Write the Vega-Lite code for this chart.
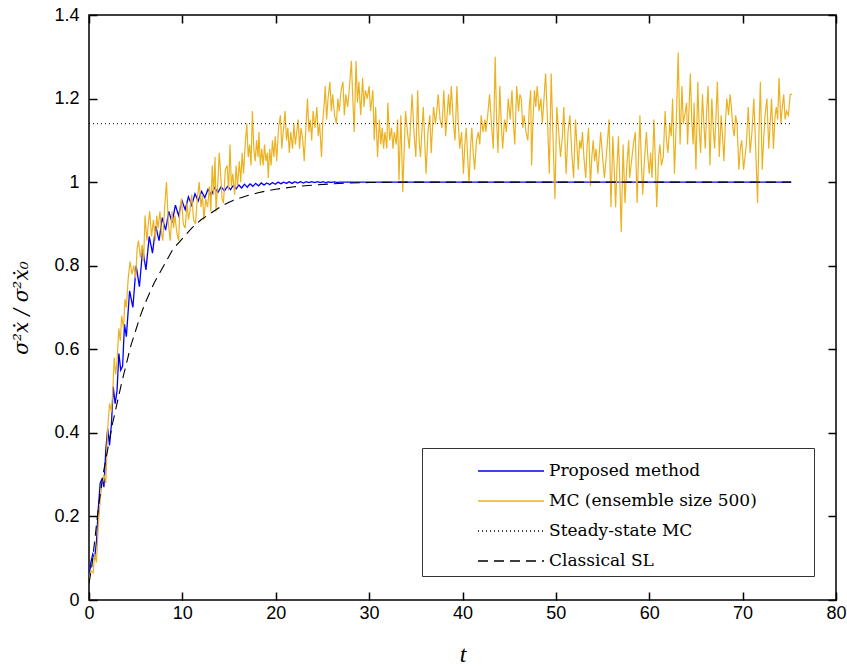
{
"$schema":"https://vega.github.io/schema/vega-lite/v6.json",
"width":747,"height":585,
"autosize":"none",
"padding":{"left":89,"top":15,"right":11,"bottom":70},
"background":"white",
"layer":[
{"data":{"values":[
{"s":"Proposed method","t":0,"v":0.05},{"s":"Proposed method","t":0.2,"v":0.09},{"s":"Proposed method","t":0.4,"v":0.11},{"s":"Proposed method","t":0.6,"v":0.10},{"s":"Proposed method","t":0.8,"v":0.14},{"s":"Proposed method","t":1.0,"v":0.22},{"s":"Proposed method","t":1.2,"v":0.28},{"s":"Proposed method","t":1.4,"v":0.29},{"s":"Proposed method","t":1.6,"v":0.27},{"s":"Proposed method","t":1.8,"v":0.36},{"s":"Proposed method","t":2.0,"v":0.41},{"s":"Proposed method","t":2.2,"v":0.37},{"s":"Proposed method","t":2.4,"v":0.42},{"s":"Proposed method","t":2.6,"v":0.51},{"s":"Proposed method","t":2.8,"v":0.47},{"s":"Proposed method","t":3.0,"v":0.50},{"s":"Proposed method","t":3.2,"v":0.59},{"s":"Proposed method","t":3.4,"v":0.55},{"s":"Proposed method","t":3.6,"v":0.56},{"s":"Proposed method","t":3.8,"v":0.66},{"s":"Proposed method","t":4.0,"v":0.63},{"s":"Proposed method","t":4.35,"v":0.74},{"s":"Proposed method","t":4.7,"v":0.70},{"s":"Proposed method","t":5.05,"v":0.80},{"s":"Proposed method","t":5.4,"v":0.75},{"s":"Proposed method","t":5.75,"v":0.84},{"s":"Proposed method","t":6.1,"v":0.79},{"s":"Proposed method","t":6.45,"v":0.87},{"s":"Proposed method","t":6.8,"v":0.83},{"s":"Proposed method","t":7.15,"v":0.895},{"s":"Proposed method","t":7.5,"v":0.86},{"s":"Proposed method","t":7.85,"v":0.915},{"s":"Proposed method","t":8.2,"v":0.885},{"s":"Proposed method","t":8.55,"v":0.93},{"s":"Proposed method","t":8.9,"v":0.903},{"s":"Proposed method","t":9.25,"v":0.945},{"s":"Proposed method","t":9.6,"v":0.92},{"s":"Proposed method","t":9.95,"v":0.956},{"s":"Proposed method","t":10.3,"v":0.934},{"s":"Proposed method","t":10.65,"v":0.965},{"s":"Proposed method","t":11.0,"v":0.945},{"s":"Proposed method","t":11.35,"v":0.972},{"s":"Proposed method","t":11.7,"v":0.955},{"s":"Proposed method","t":12.05,"v":0.978},{"s":"Proposed method","t":12.4,"v":0.963},{"s":"Proposed method","t":12.75,"v":0.983},{"s":"Proposed method","t":13.1,"v":0.969},{"s":"Proposed method","t":13.45,"v":0.987},{"s":"Proposed method","t":13.8,"v":0.975},{"s":"Proposed method","t":14.15,"v":0.989},{"s":"Proposed method","t":14.5,"v":0.979},{"s":"Proposed method","t":14.85,"v":0.990},{"s":"Proposed method","t":15.15,"v":0.982},{"s":"Proposed method","t":15.45,"v":0.992},{"s":"Proposed method","t":15.75,"v":0.984},{"s":"Proposed method","t":16.05,"v":0.993},{"s":"Proposed method","t":16.35,"v":0.986},{"s":"Proposed method","t":16.65,"v":0.995},{"s":"Proposed method","t":16.95,"v":0.988},{"s":"Proposed method","t":17.25,"v":0.996},{"s":"Proposed method","t":17.55,"v":0.990},{"s":"Proposed method","t":17.85,"v":0.997},{"s":"Proposed method","t":18.15,"v":0.991},{"s":"Proposed method","t":18.45,"v":0.998},{"s":"Proposed method","t":18.75,"v":0.993},{"s":"Proposed method","t":19.05,"v":0.998},{"s":"Proposed method","t":19.35,"v":0.994},{"s":"Proposed method","t":19.65,"v":0.999},{"s":"Proposed method","t":19.95,"v":0.995},{"s":"Proposed method","t":20.25,"v":1.0},{"s":"Proposed method","t":20.55,"v":0.996},{"s":"Proposed method","t":20.85,"v":1.0},{"s":"Proposed method","t":21.15,"v":0.997},{"s":"Proposed method","t":21.45,"v":1.001},{"s":"Proposed method","t":21.75,"v":0.997},{"s":"Proposed method","t":22.05,"v":1.001},{"s":"Proposed method","t":22.35,"v":0.998},{"s":"Proposed method","t":22.65,"v":1.001},{"s":"Proposed method","t":22.95,"v":0.998},{"s":"Proposed method","t":23.25,"v":1.001},{"s":"Proposed method","t":23.55,"v":0.999},{"s":"Proposed method","t":23.85,"v":1.001},{"s":"Proposed method","t":24.15,"v":0.999},{"s":"Proposed method","t":24.45,"v":1.001},{"s":"Proposed method","t":24.75,"v":0.999},{"s":"Proposed method","t":25.05,"v":1.001},{"s":"Proposed method","t":25.35,"v":0.999},{"s":"Proposed method","t":25.65,"v":1.0005},{"s":"Proposed method","t":25.95,"v":0.9995},{"s":"Proposed method","t":26.25,"v":1.0005},{"s":"Proposed method","t":26.55,"v":0.9995},{"s":"Proposed method","t":27,"v":1.0},{"s":"Proposed method","t":75.2,"v":1.0}
]},
"mark":{"type":"line","strokeWidth":1.3,"clip":true},
"encoding":{
"x":{"field":"t","type":"quantitative","scale":{"domain":[0,80],"nice":false,"zero":false},"axis":{"orient":"bottom","values":[0,10,20,30,40,50,60,70,80],"tickSize":-8,"labelPadding":12,"labelFlush":false,"domain":false,"grid":false,"title":"t","titleFont":"Liberation Serif","titleFontStyle":"italic","titleFontWeight":"normal","titleFontSize":24,"titlePadding":20}},
"y":{"field":"v","type":"quantitative","scale":{"domain":[0,1.4],"nice":false,"zero":false},"axis":{"orient":"left","values":[0,0.2,0.4,0.6,0.8,1,1.2,1.4],"format":"~g","tickSize":-8,"labelPadding":18,"labelFlush":false,"domain":false,"grid":false,"title":"σ²ẋ / σ²ẋ₀","titleFont":"DejaVu Serif","titleFontStyle":"italic","titleFontWeight":"normal","titleFontSize":20,"titlePadding":22}},
"color":{"field":"s","type":"nominal","scale":{"domain":["Proposed method","MC (ensemble size 500)","Steady-state MC","Classical SL"],"range":["#0000FF","#EDB120","#000000","#000000"]},"legend":{"orient":"none","legendX":333,"legendY":433,"title":null,"symbolType":"M-2.2,0H2.2","symbolSize":900,"symbolStrokeWidth":1.3,"labelFont":"DejaVu Serif","labelFontSize":17,"labelColor":"black","labelLimit":500,"padding":7,"rowPadding":6,"strokeColor":"#333333","fillColor":"white","symbolOffset":66,"labelOffset":22,"labelExpr":"datum.label + '\u2800\u2800\u2800\u2800'"}},
"strokeDash":{"field":"s","type":"nominal","scale":{"domain":["Proposed method","MC (ensemble size 500)","Steady-state MC","Classical SL"],"range":[[1,0],[1,0],[1,3],[10,6]]},"legend":{"orient":"none","legendX":333,"legendY":433,"title":null,"symbolType":"M-2.2,0H2.2","symbolSize":900,"symbolStrokeWidth":1.3,"labelFont":"DejaVu Serif","labelFontSize":17,"labelColor":"black","labelLimit":500,"padding":7,"rowPadding":6,"strokeColor":"#333333","fillColor":"white","symbolOffset":66,"labelOffset":22,"labelExpr":"datum.label + '\u2800\u2800\u2800\u2800'"}}
}},
{"data":{"values":[
{"s":"MC (ensemble size 500)","t":0,"v":0.05},{"s":"MC (ensemble size 500)","t":0.2,"v":0.07},{"s":"MC (ensemble size 500)","t":0.45,"v":0.065},{"s":"MC (ensemble size 500)","t":0.6,"v":0.11},{"s":"MC (ensemble size 500)","t":0.8,"v":0.09},{"s":"MC (ensemble size 500)","t":1.0,"v":0.18},{"s":"MC (ensemble size 500)","t":1.2,"v":0.24},{"s":"MC (ensemble size 500)","t":1.4,"v":0.28},{"s":"MC (ensemble size 500)","t":1.6,"v":0.30},{"s":"MC (ensemble size 500)","t":1.8,"v":0.28},{"s":"MC (ensemble size 500)","t":2.0,"v":0.41},{"s":"MC (ensemble size 500)","t":2.2,"v":0.47},{"s":"MC (ensemble size 500)","t":2.4,"v":0.45},{"s":"MC (ensemble size 500)","t":2.55,"v":0.50},{"s":"MC (ensemble size 500)","t":2.7,"v":0.58},{"s":"MC (ensemble size 500)","t":2.85,"v":0.54},{"s":"MC (ensemble size 500)","t":3.0,"v":0.57},{"s":"MC (ensemble size 500)","t":3.2,"v":0.65},{"s":"MC (ensemble size 500)","t":3.35,"v":0.62},{"s":"MC (ensemble size 500)","t":3.5,"v":0.68},{"s":"MC (ensemble size 500)","t":3.7,"v":0.65},{"s":"MC (ensemble size 500)","t":3.85,"v":0.72},{"s":"MC (ensemble size 500)","t":4.0,"v":0.70},{"s":"MC (ensemble size 500)","t":4.2,"v":0.77},{"s":"MC (ensemble size 500)","t":4.4,"v":0.81},{"s":"MC (ensemble size 500)","t":4.6,"v":0.78},{"s":"MC (ensemble size 500)","t":4.8,"v":0.80},{"s":"MC (ensemble size 500)","t":5.0,"v":0.77},{"s":"MC (ensemble size 500)","t":5.15,"v":0.84},{"s":"MC (ensemble size 500)","t":5.3,"v":0.86},{"s":"MC (ensemble size 500)","t":5.5,"v":0.82},{"s":"MC (ensemble size 500)","t":5.7,"v":0.85},{"s":"MC (ensemble size 500)","t":5.85,"v":0.81},{"s":"MC (ensemble size 500)","t":6.0,"v":0.92},{"s":"MC (ensemble size 500)","t":6.2,"v":0.86},{"s":"MC (ensemble size 500)","t":6.35,"v":0.90},{"s":"MC (ensemble size 500)","t":6.5,"v":0.93},{"s":"MC (ensemble size 500)","t":6.7,"v":0.87},{"s":"MC (ensemble size 500)","t":6.9,"v":0.91},{"s":"MC (ensemble size 500)","t":7.1,"v":0.86},{"s":"MC (ensemble size 500)","t":7.25,"v":0.92},{"s":"MC (ensemble size 500)","t":7.4,"v":0.89},{"s":"MC (ensemble size 500)","t":7.6,"v":0.93},{"s":"MC (ensemble size 500)","t":7.75,"v":0.88},{"s":"MC (ensemble size 500)","t":7.9,"v":0.86},{"s":"MC (ensemble size 500)","t":8.1,"v":0.94},{"s":"MC (ensemble size 500)","t":8.3,"v":1.00},{"s":"MC (ensemble size 500)","t":8.5,"v":0.90},{"s":"MC (ensemble size 500)","t":8.7,"v":0.86},{"s":"MC (ensemble size 500)","t":8.9,"v":0.93},{"s":"MC (ensemble size 500)","t":9.05,"v":0.89},{"s":"MC (ensemble size 500)","t":9.2,"v":0.92},{"s":"MC (ensemble size 500)","t":9.4,"v":0.88},{"s":"MC (ensemble size 500)","t":9.6,"v":0.86},{"s":"MC (ensemble size 500)","t":9.75,"v":0.94},{"s":"MC (ensemble size 500)","t":9.9,"v":0.96},{"s":"MC (ensemble size 500)","t":10.1,"v":0.90},{"s":"MC (ensemble size 500)","t":10.3,"v":0.89},{"s":"MC (ensemble size 500)","t":10.5,"v":0.95},{"s":"MC (ensemble size 500)","t":10.65,"v":0.91},{"s":"MC (ensemble size 500)","t":10.8,"v":0.93},{"s":"MC (ensemble size 500)","t":11.0,"v":0.97},{"s":"MC (ensemble size 500)","t":11.2,"v":0.91},{"s":"MC (ensemble size 500)","t":11.4,"v":0.90},{"s":"MC (ensemble size 500)","t":11.6,"v":0.96},{"s":"MC (ensemble size 500)","t":11.8,"v":1.00},{"s":"MC (ensemble size 500)","t":12.0,"v":0.94},{"s":"MC (ensemble size 500)","t":12.15,"v":0.97},{"s":"MC (ensemble size 500)","t":12.3,"v":0.91},{"s":"MC (ensemble size 500)","t":12.5,"v":0.96},{"s":"MC (ensemble size 500)","t":12.7,"v":0.94},{"s":"MC (ensemble size 500)","t":12.9,"v":0.99},{"s":"MC (ensemble size 500)","t":13.05,"v":0.93},{"s":"MC (ensemble size 500)","t":13.2,"v":1.04},{"s":"MC (ensemble size 500)","t":13.35,"v":0.97},{"s":"MC (ensemble size 500)","t":13.5,"v":1.06},{"s":"MC (ensemble size 500)","t":13.6,"v":0.93},{"s":"MC (ensemble size 500)","t":13.8,"v":1.00},{"s":"MC (ensemble size 500)","t":13.95,"v":1.07},{"s":"MC (ensemble size 500)","t":14.1,"v":1.02},{"s":"MC (ensemble size 500)","t":14.25,"v":0.96},{"s":"MC (ensemble size 500)","t":14.4,"v":0.95},{"s":"MC (ensemble size 500)","t":14.6,"v":1.03},{"s":"MC (ensemble size 500)","t":14.8,"v":1.04},{"s":"MC (ensemble size 500)","t":14.95,"v":0.98},{"s":"MC (ensemble size 500)","t":15.1,"v":1.09},{"s":"MC (ensemble size 500)","t":15.25,"v":0.99},{"s":"MC (ensemble size 500)","t":15.4,"v":1.02},{"s":"MC (ensemble size 500)","t":15.6,"v":0.97},{"s":"MC (ensemble size 500)","t":15.75,"v":1.04},{"s":"MC (ensemble size 500)","t":15.9,"v":0.99},{"s":"MC (ensemble size 500)","t":16.1,"v":1.05},{"s":"MC (ensemble size 500)","t":16.25,"v":1.00},{"s":"MC (ensemble size 500)","t":16.4,"v":1.07},{"s":"MC (ensemble size 500)","t":16.55,"v":1.02},{"s":"MC (ensemble size 500)","t":16.7,"v":1.08},{"s":"MC (ensemble size 500)","t":16.9,"v":1.14},{"s":"MC (ensemble size 500)","t":17.05,"v":1.06},{"s":"MC (ensemble size 500)","t":17.2,"v":1.09},{"s":"MC (ensemble size 500)","t":17.35,"v":1.04},{"s":"MC (ensemble size 500)","t":17.5,"v":1.17},{"s":"MC (ensemble size 500)","t":17.65,"v":1.08},{"s":"MC (ensemble size 500)","t":17.8,"v":1.05},{"s":"MC (ensemble size 500)","t":17.95,"v":1.10},{"s":"MC (ensemble size 500)","t":18.1,"v":1.06},{"s":"MC (ensemble size 500)","t":18.2,"v":1.12},{"s":"MC (ensemble size 500)","t":18.35,"v":1.04},{"s":"MC (ensemble size 500)","t":18.5,"v":1.08},{"s":"MC (ensemble size 500)","t":18.65,"v":1.04},{"s":"MC (ensemble size 500)","t":18.8,"v":1.09},{"s":"MC (ensemble size 500)","t":18.95,"v":1.05},{"s":"MC (ensemble size 500)","t":19.1,"v":1.07},{"s":"MC (ensemble size 500)","t":19.2,"v":1.01},{"s":"MC (ensemble size 500)","t":19.35,"v":1.08},{"s":"MC (ensemble size 500)","t":19.5,"v":1.04},{"s":"MC (ensemble size 500)","t":19.65,"v":1.10},{"s":"MC (ensemble size 500)","t":19.8,"v":1.06},{"s":"MC (ensemble size 500)","t":19.95,"v":1.11},{"s":"MC (ensemble size 500)","t":20.1,"v":1.05},{"s":"MC (ensemble size 500)","t":20.3,"v":1.13},{"s":"MC (ensemble size 500)","t":20.5,"v":1.16},{"s":"MC (ensemble size 500)","t":20.65,"v":1.08},{"s":"MC (ensemble size 500)","t":20.8,"v":1.12},{"s":"MC (ensemble size 500)","t":21.0,"v":1.17},{"s":"MC (ensemble size 500)","t":21.15,"v":1.10},{"s":"MC (ensemble size 500)","t":21.3,"v":1.13},{"s":"MC (ensemble size 500)","t":21.45,"v":1.07},{"s":"MC (ensemble size 500)","t":21.6,"v":1.12},{"s":"MC (ensemble size 500)","t":21.8,"v":1.08},{"s":"MC (ensemble size 500)","t":21.95,"v":1.14},{"s":"MC (ensemble size 500)","t":22.1,"v":1.09},{"s":"MC (ensemble size 500)","t":22.25,"v":1.12},{"s":"MC (ensemble size 500)","t":22.4,"v":1.15},{"s":"MC (ensemble size 500)","t":22.55,"v":1.08},{"s":"MC (ensemble size 500)","t":22.7,"v":1.13},{"s":"MC (ensemble size 500)","t":22.9,"v":1.10},{"s":"MC (ensemble size 500)","t":23.05,"v":1.05},{"s":"MC (ensemble size 500)","t":23.25,"v":1.14},{"s":"MC (ensemble size 500)","t":23.4,"v":1.20},{"s":"MC (ensemble size 500)","t":23.55,"v":1.12},{"s":"MC (ensemble size 500)","t":23.7,"v":1.15},{"s":"MC (ensemble size 500)","t":23.85,"v":1.10},{"s":"MC (ensemble size 500)","t":24.0,"v":1.17},{"s":"MC (ensemble size 500)","t":24.2,"v":1.13},{"s":"MC (ensemble size 500)","t":24.4,"v":1.18},{"s":"MC (ensemble size 500)","t":24.55,"v":1.11},{"s":"MC (ensemble size 500)","t":24.7,"v":1.14},{"s":"MC (ensemble size 500)","t":24.9,"v":1.06},{"s":"MC (ensemble size 500)","t":25.05,"v":1.15},{"s":"MC (ensemble size 500)","t":25.2,"v":1.19},{"s":"MC (ensemble size 500)","t":25.3,"v":1.23},{"s":"MC (ensemble size 500)","t":25.45,"v":1.15},{"s":"MC (ensemble size 500)","t":25.6,"v":1.20},{"s":"MC (ensemble size 500)","t":25.8,"v":1.24},{"s":"MC (ensemble size 500)","t":25.95,"v":1.17},{"s":"MC (ensemble size 500)","t":26.1,"v":1.21},{"s":"MC (ensemble size 500)","t":26.3,"v":1.16},{"s":"MC (ensemble size 500)","t":26.5,"v":1.14},{"s":"MC (ensemble size 500)","t":26.65,"v":1.20},{"s":"MC (ensemble size 500)","t":26.8,"v":1.17},{"s":"MC (ensemble size 500)","t":27.0,"v":1.22},{"s":"MC (ensemble size 500)","t":27.2,"v":1.24},{"s":"MC (ensemble size 500)","t":27.35,"v":1.16},{"s":"MC (ensemble size 500)","t":27.5,"v":1.21},{"s":"MC (ensemble size 500)","t":27.7,"v":1.18},{"s":"MC (ensemble size 500)","t":27.9,"v":1.23},{"s":"MC (ensemble size 500)","t":28.1,"v":1.29},{"s":"MC (ensemble size 500)","t":28.25,"v":1.20},{"s":"MC (ensemble size 500)","t":28.4,"v":1.12},{"s":"MC (ensemble size 500)","t":28.6,"v":1.29},{"s":"MC (ensemble size 500)","t":28.75,"v":1.19},{"s":"MC (ensemble size 500)","t":28.9,"v":1.24},{"s":"MC (ensemble size 500)","t":29.1,"v":1.16},{"s":"MC (ensemble size 500)","t":29.3,"v":1.25},{"s":"MC (ensemble size 500)","t":29.45,"v":1.18},{"s":"MC (ensemble size 500)","t":29.6,"v":1.22},{"s":"MC (ensemble size 500)","t":29.8,"v":1.20},{"s":"MC (ensemble size 500)","t":30.0,"v":1.23},{"s":"MC (ensemble size 500)","t":30.15,"v":1.17},{"s":"MC (ensemble size 500)","t":30.4,"v":1.22},{"s":"MC (ensemble size 500)","t":30.55,"v":1.10},{"s":"MC (ensemble size 500)","t":30.7,"v":1.18},{"s":"MC (ensemble size 500)","t":30.9,"v":1.06},{"s":"MC (ensemble size 500)","t":31.1,"v":1.15},{"s":"MC (ensemble size 500)","t":31.25,"v":1.09},{"s":"MC (ensemble size 500)","t":31.4,"v":1.13},{"s":"MC (ensemble size 500)","t":31.55,"v":1.08},{"s":"MC (ensemble size 500)","t":31.7,"v":1.12},{"s":"MC (ensemble size 500)","t":31.9,"v":1.08},{"s":"MC (ensemble size 500)","t":32.0,"v":1.19},{"s":"MC (ensemble size 500)","t":32.2,"v":1.10},{"s":"MC (ensemble size 500)","t":32.4,"v":1.13},{"s":"MC (ensemble size 500)","t":32.55,"v":1.08},{"s":"MC (ensemble size 500)","t":32.7,"v":1.12},{"s":"MC (ensemble size 500)","t":32.9,"v":1.09},{"s":"MC (ensemble size 500)","t":33.05,"v":1.15},{"s":"MC (ensemble size 500)","t":33.2,"v":1.005},{"s":"MC (ensemble size 500)","t":33.4,"v":1.16},{"s":"MC (ensemble size 500)","t":33.6,"v":0.976},{"s":"MC (ensemble size 500)","t":33.9,"v":1.17},{"s":"MC (ensemble size 500)","t":34.1,"v":1.12},{"s":"MC (ensemble size 500)","t":34.3,"v":1.08},{"s":"MC (ensemble size 500)","t":34.6,"v":1.21},{"s":"MC (ensemble size 500)","t":34.8,"v":1.12},{"s":"MC (ensemble size 500)","t":35.0,"v":1.06},{"s":"MC (ensemble size 500)","t":35.2,"v":1.22},{"s":"MC (ensemble size 500)","t":35.35,"v":1.10},{"s":"MC (ensemble size 500)","t":35.5,"v":1.06},{"s":"MC (ensemble size 500)","t":35.8,"v":1.18},{"s":"MC (ensemble size 500)","t":35.95,"v":1.10},{"s":"MC (ensemble size 500)","t":36.1,"v":1.02},{"s":"MC (ensemble size 500)","t":36.3,"v":1.12},{"s":"MC (ensemble size 500)","t":36.5,"v":1.16},{"s":"MC (ensemble size 500)","t":36.65,"v":1.07},{"s":"MC (ensemble size 500)","t":36.9,"v":1.18},{"s":"MC (ensemble size 500)","t":37.1,"v":1.14},{"s":"MC (ensemble size 500)","t":37.25,"v":1.17},{"s":"MC (ensemble size 500)","t":37.4,"v":1.21},{"s":"MC (ensemble size 500)","t":37.6,"v":1.15},{"s":"MC (ensemble size 500)","t":37.8,"v":1.13},{"s":"MC (ensemble size 500)","t":38.0,"v":1.22},{"s":"MC (ensemble size 500)","t":38.2,"v":1.11},{"s":"MC (ensemble size 500)","t":38.35,"v":1.16},{"s":"MC (ensemble size 500)","t":38.5,"v":1.21},{"s":"MC (ensemble size 500)","t":38.65,"v":1.16},{"s":"MC (ensemble size 500)","t":38.8,"v":1.23},{"s":"MC (ensemble size 500)","t":39.0,"v":1.15},{"s":"MC (ensemble size 500)","t":39.2,"v":1.10},{"s":"MC (ensemble size 500)","t":39.4,"v":1.23},{"s":"MC (ensemble size 500)","t":39.55,"v":1.14},{"s":"MC (ensemble size 500)","t":39.7,"v":1.08},{"s":"MC (ensemble size 500)","t":39.9,"v":1.12},{"s":"MC (ensemble size 500)","t":40.1,"v":1.02},{"s":"MC (ensemble size 500)","t":40.25,"v":1.09},{"s":"MC (ensemble size 500)","t":40.4,"v":1.13},{"s":"MC (ensemble size 500)","t":40.55,"v":1.06},{"s":"MC (ensemble size 500)","t":40.7,"v":0.997},{"s":"MC (ensemble size 500)","t":40.85,"v":1.08},{"s":"MC (ensemble size 500)","t":41.0,"v":1.13},{"s":"MC (ensemble size 500)","t":41.15,"v":1.07},{"s":"MC (ensemble size 500)","t":41.3,"v":1.03},{"s":"MC (ensemble size 500)","t":41.5,"v":1.10},{"s":"MC (ensemble size 500)","t":41.7,"v":1.12},{"s":"MC (ensemble size 500)","t":41.85,"v":1.09},{"s":"MC (ensemble size 500)","t":42.0,"v":1.16},{"s":"MC (ensemble size 500)","t":42.2,"v":1.12},{"s":"MC (ensemble size 500)","t":42.4,"v":1.15},{"s":"MC (ensemble size 500)","t":42.5,"v":1.12},{"s":"MC (ensemble size 500)","t":42.7,"v":1.16},{"s":"MC (ensemble size 500)","t":42.9,"v":1.21},{"s":"MC (ensemble size 500)","t":43.1,"v":1.14},{"s":"MC (ensemble size 500)","t":43.3,"v":1.08},{"s":"MC (ensemble size 500)","t":43.5,"v":1.30},{"s":"MC (ensemble size 500)","t":43.65,"v":1.15},{"s":"MC (ensemble size 500)","t":43.8,"v":1.07},{"s":"MC (ensemble size 500)","t":44.0,"v":1.23},{"s":"MC (ensemble size 500)","t":44.15,"v":1.14},{"s":"MC (ensemble size 500)","t":44.3,"v":1.08},{"s":"MC (ensemble size 500)","t":44.5,"v":1.15},{"s":"MC (ensemble size 500)","t":44.7,"v":1.12},{"s":"MC (ensemble size 500)","t":44.9,"v":1.20},{"s":"MC (ensemble size 500)","t":45.1,"v":1.15},{"s":"MC (ensemble size 500)","t":45.3,"v":1.22},{"s":"MC (ensemble size 500)","t":45.45,"v":1.14},{"s":"MC (ensemble size 500)","t":45.6,"v":1.09},{"s":"MC (ensemble size 500)","t":45.8,"v":1.23},{"s":"MC (ensemble size 500)","t":46.0,"v":1.17},{"s":"MC (ensemble size 500)","t":46.15,"v":1.21},{"s":"MC (ensemble size 500)","t":46.3,"v":1.20},{"s":"MC (ensemble size 500)","t":46.45,"v":1.13},{"s":"MC (ensemble size 500)","t":46.6,"v":1.16},{"s":"MC (ensemble size 500)","t":46.8,"v":1.12},{"s":"MC (ensemble size 500)","t":47.0,"v":1.10},{"s":"MC (ensemble size 500)","t":47.15,"v":1.18},{"s":"MC (ensemble size 500)","t":47.3,"v":1.22},{"s":"MC (ensemble size 500)","t":47.4,"v":1.04},{"s":"MC (ensemble size 500)","t":47.55,"v":1.15},{"s":"MC (ensemble size 500)","t":47.7,"v":1.22},{"s":"MC (ensemble size 500)","t":47.85,"v":1.18},{"s":"MC (ensemble size 500)","t":48.0,"v":1.23},{"s":"MC (ensemble size 500)","t":48.2,"v":1.17},{"s":"MC (ensemble size 500)","t":48.4,"v":1.20},{"s":"MC (ensemble size 500)","t":48.55,"v":1.14},{"s":"MC (ensemble size 500)","t":48.7,"v":1.19},{"s":"MC (ensemble size 500)","t":48.9,"v":1.26},{"s":"MC (ensemble size 500)","t":49.1,"v":1.15},{"s":"MC (ensemble size 500)","t":49.3,"v":1.02},{"s":"MC (ensemble size 500)","t":49.5,"v":1.26},{"s":"MC (ensemble size 500)","t":49.7,"v":1.10},{"s":"MC (ensemble size 500)","t":49.9,"v":0.96},{"s":"MC (ensemble size 500)","t":50.1,"v":1.18},{"s":"MC (ensemble size 500)","t":50.3,"v":1.12},{"s":"MC (ensemble size 500)","t":50.5,"v":1.06},{"s":"MC (ensemble size 500)","t":50.7,"v":1.11},{"s":"MC (ensemble size 500)","t":50.85,"v":1.18},{"s":"MC (ensemble size 500)","t":51.0,"v":1.08},{"s":"MC (ensemble size 500)","t":51.1,"v":1.02},{"s":"MC (ensemble size 500)","t":51.3,"v":1.12},{"s":"MC (ensemble size 500)","t":51.5,"v":1.16},{"s":"MC (ensemble size 500)","t":51.7,"v":1.07},{"s":"MC (ensemble size 500)","t":51.9,"v":1.01},{"s":"MC (ensemble size 500)","t":52.1,"v":1.15},{"s":"MC (ensemble size 500)","t":52.25,"v":1.09},{"s":"MC (ensemble size 500)","t":52.4,"v":1.03},{"s":"MC (ensemble size 500)","t":52.55,"v":1.10},{"s":"MC (ensemble size 500)","t":52.7,"v":1.08},{"s":"MC (ensemble size 500)","t":52.85,"v":1.12},{"s":"MC (ensemble size 500)","t":53.0,"v":1.06},{"s":"MC (ensemble size 500)","t":53.2,"v":1.01},{"s":"MC (ensemble size 500)","t":53.35,"v":1.09},{"s":"MC (ensemble size 500)","t":53.5,"v":1.13},{"s":"MC (ensemble size 500)","t":53.7,"v":0.99},{"s":"MC (ensemble size 500)","t":53.85,"v":1.06},{"s":"MC (ensemble size 500)","t":54.0,"v":1.10},{"s":"MC (ensemble size 500)","t":54.15,"v":1.05},{"s":"MC (ensemble size 500)","t":54.3,"v":1.08},{"s":"MC (ensemble size 500)","t":54.5,"v":1.02},{"s":"MC (ensemble size 500)","t":54.65,"v":1.07},{"s":"MC (ensemble size 500)","t":54.8,"v":1.12},{"s":"MC (ensemble size 500)","t":55.0,"v":1.06},{"s":"MC (ensemble size 500)","t":55.2,"v":1.01},{"s":"MC (ensemble size 500)","t":55.35,"v":1.05},{"s":"MC (ensemble size 500)","t":55.5,"v":1.09},{"s":"MC (ensemble size 500)","t":55.7,"v":1.15},{"s":"MC (ensemble size 500)","t":55.9,"v":0.94},{"s":"MC (ensemble size 500)","t":56.1,"v":1.11},{"s":"MC (ensemble size 500)","t":56.25,"v":1.03},{"s":"MC (ensemble size 500)","t":56.4,"v":0.94},{"s":"MC (ensemble size 500)","t":56.55,"v":1.04},{"s":"MC (ensemble size 500)","t":56.7,"v":1.11},{"s":"MC (ensemble size 500)","t":56.85,"v":1.00},{"s":"MC (ensemble size 500)","t":57.0,"v":0.88},{"s":"MC (ensemble size 500)","t":57.2,"v":1.09},{"s":"MC (ensemble size 500)","t":57.4,"v":0.95},{"s":"MC (ensemble size 500)","t":57.6,"v":1.04},{"s":"MC (ensemble size 500)","t":57.8,"v":1.10},{"s":"MC (ensemble size 500)","t":57.9,"v":1.01},{"s":"MC (ensemble size 500)","t":58.1,"v":1.05},{"s":"MC (ensemble size 500)","t":58.3,"v":1.09},{"s":"MC (ensemble size 500)","t":58.5,"v":1.12},{"s":"MC (ensemble size 500)","t":58.7,"v":0.95},{"s":"MC (ensemble size 500)","t":58.85,"v":1.06},{"s":"MC (ensemble size 500)","t":59.0,"v":1.16},{"s":"MC (ensemble size 500)","t":59.15,"v":1.05},{"s":"MC (ensemble size 500)","t":59.3,"v":0.97},{"s":"MC (ensemble size 500)","t":59.5,"v":1.06},{"s":"MC (ensemble size 500)","t":59.7,"v":1.12},{"s":"MC (ensemble size 500)","t":59.85,"v":1.06},{"s":"MC (ensemble size 500)","t":60.0,"v":1.02},{"s":"MC (ensemble size 500)","t":60.15,"v":1.07},{"s":"MC (ensemble size 500)","t":60.3,"v":1.01},{"s":"MC (ensemble size 500)","t":60.5,"v":1.15},{"s":"MC (ensemble size 500)","t":60.65,"v":1.05},{"s":"MC (ensemble size 500)","t":60.8,"v":0.94},{"s":"MC (ensemble size 500)","t":61.0,"v":1.06},{"s":"MC (ensemble size 500)","t":61.15,"v":1.09},{"s":"MC (ensemble size 500)","t":61.3,"v":1.04},{"s":"MC (ensemble size 500)","t":61.5,"v":1.06},{"s":"MC (ensemble size 500)","t":61.7,"v":1.17},{"s":"MC (ensemble size 500)","t":61.85,"v":1.10},{"s":"MC (ensemble size 500)","t":62.0,"v":1.07},{"s":"MC (ensemble size 500)","t":62.2,"v":1.14},{"s":"MC (ensemble size 500)","t":62.35,"v":1.11},{"s":"MC (ensemble size 500)","t":62.5,"v":1.20},{"s":"MC (ensemble size 500)","t":62.7,"v":1.02},{"s":"MC (ensemble size 500)","t":62.9,"v":1.15},{"s":"MC (ensemble size 500)","t":63.1,"v":1.31},{"s":"MC (ensemble size 500)","t":63.3,"v":1.09},{"s":"MC (ensemble size 500)","t":63.5,"v":1.23},{"s":"MC (ensemble size 500)","t":63.65,"v":1.14},{"s":"MC (ensemble size 500)","t":63.8,"v":1.16},{"s":"MC (ensemble size 500)","t":64.0,"v":1.19},{"s":"MC (ensemble size 500)","t":64.1,"v":1.09},{"s":"MC (ensemble size 500)","t":64.25,"v":1.17},{"s":"MC (ensemble size 500)","t":64.4,"v":1.26},{"s":"MC (ensemble size 500)","t":64.55,"v":1.15},{"s":"MC (ensemble size 500)","t":64.7,"v":1.09},{"s":"MC (ensemble size 500)","t":64.8,"v":1.19},{"s":"MC (ensemble size 500)","t":65.0,"v":1.03},{"s":"MC (ensemble size 500)","t":65.2,"v":1.24},{"s":"MC (ensemble size 500)","t":65.35,"v":1.13},{"s":"MC (ensemble size 500)","t":65.5,"v":1.07},{"s":"MC (ensemble size 500)","t":65.7,"v":1.21},{"s":"MC (ensemble size 500)","t":65.85,"v":1.14},{"s":"MC (ensemble size 500)","t":66.0,"v":1.08},{"s":"MC (ensemble size 500)","t":66.15,"v":1.17},{"s":"MC (ensemble size 500)","t":66.3,"v":1.23},{"s":"MC (ensemble size 500)","t":66.5,"v":1.04},{"s":"MC (ensemble size 500)","t":66.7,"v":1.20},{"s":"MC (ensemble size 500)","t":66.85,"v":1.13},{"s":"MC (ensemble size 500)","t":67.0,"v":1.08},{"s":"MC (ensemble size 500)","t":67.15,"v":1.16},{"s":"MC (ensemble size 500)","t":67.3,"v":1.24},{"s":"MC (ensemble size 500)","t":67.5,"v":1.06},{"s":"MC (ensemble size 500)","t":67.7,"v":1.16},{"s":"MC (ensemble size 500)","t":67.85,"v":1.11},{"s":"MC (ensemble size 500)","t":68.0,"v":1.05},{"s":"MC (ensemble size 500)","t":68.15,"v":1.14},{"s":"MC (ensemble size 500)","t":68.3,"v":1.20},{"s":"MC (ensemble size 500)","t":68.5,"v":1.16},{"s":"MC (ensemble size 500)","t":68.65,"v":1.21},{"s":"MC (ensemble size 500)","t":68.8,"v":1.18},{"s":"MC (ensemble size 500)","t":68.95,"v":1.13},{"s":"MC (ensemble size 500)","t":69.1,"v":1.11},{"s":"MC (ensemble size 500)","t":69.25,"v":1.16},{"s":"MC (ensemble size 500)","t":69.4,"v":1.14},{"s":"MC (ensemble size 500)","t":69.6,"v":1.03},{"s":"MC (ensemble size 500)","t":69.75,"v":1.08},{"s":"MC (ensemble size 500)","t":69.9,"v":1.10},{"s":"MC (ensemble size 500)","t":70.1,"v":1.03},{"s":"MC (ensemble size 500)","t":70.25,"v":1.06},{"s":"MC (ensemble size 500)","t":70.4,"v":1.09},{"s":"MC (ensemble size 500)","t":70.6,"v":1.18},{"s":"MC (ensemble size 500)","t":70.8,"v":1.07},{"s":"MC (ensemble size 500)","t":71.0,"v":1.12},{"s":"MC (ensemble size 500)","t":71.2,"v":1.20},{"s":"MC (ensemble size 500)","t":71.4,"v":1.08},{"s":"MC (ensemble size 500)","t":71.6,"v":0.95},{"s":"MC (ensemble size 500)","t":71.75,"v":1.12},{"s":"MC (ensemble size 500)","t":71.9,"v":1.24},{"s":"MC (ensemble size 500)","t":72.1,"v":1.03},{"s":"MC (ensemble size 500)","t":72.25,"v":1.10},{"s":"MC (ensemble size 500)","t":72.4,"v":1.16},{"s":"MC (ensemble size 500)","t":72.6,"v":1.20},{"s":"MC (ensemble size 500)","t":72.8,"v":1.08},{"s":"MC (ensemble size 500)","t":72.95,"v":1.14},{"s":"MC (ensemble size 500)","t":73.1,"v":1.20},{"s":"MC (ensemble size 500)","t":73.3,"v":1.08},{"s":"MC (ensemble size 500)","t":73.45,"v":1.15},{"s":"MC (ensemble size 500)","t":73.6,"v":1.18},{"s":"MC (ensemble size 500)","t":73.75,"v":1.15},{"s":"MC (ensemble size 500)","t":73.9,"v":1.25},{"s":"MC (ensemble size 500)","t":74.1,"v":1.14},{"s":"MC (ensemble size 500)","t":74.25,"v":1.18},{"s":"MC (ensemble size 500)","t":74.4,"v":1.21},{"s":"MC (ensemble size 500)","t":74.55,"v":1.15},{"s":"MC (ensemble size 500)","t":74.7,"v":1.17},{"s":"MC (ensemble size 500)","t":74.9,"v":1.16},{"s":"MC (ensemble size 500)","t":75.1,"v":1.21},{"s":"MC (ensemble size 500)","t":75.3,"v":1.21}
]},
"mark":{"type":"line","strokeWidth":1.2,"clip":true},
"encoding":{
"x":{"field":"t","type":"quantitative","scale":{"domain":[0,80],"nice":false,"zero":false},"axis":null},
"y":{"field":"v","type":"quantitative","scale":{"domain":[0,1.4],"nice":false,"zero":false},"axis":null},
"color":{"field":"s","type":"nominal"},
"strokeDash":{"field":"s","type":"nominal"}
}},
{"data":{"values":[
{"s":"Classical SL","t":0,"v":0.04},{"s":"Classical SL","t":0.3,"v":0.08},{"s":"Classical SL","t":0.6,"v":0.14},{"s":"Classical SL","t":1,"v":0.22},{"s":"Classical SL","t":1.5,"v":0.30},{"s":"Classical SL","t":2,"v":0.36},{"s":"Classical SL","t":2.5,"v":0.42},{"s":"Classical SL","t":3,"v":0.47},{"s":"Classical SL","t":3.5,"v":0.52},{"s":"Classical SL","t":4,"v":0.565},{"s":"Classical SL","t":4.5,"v":0.61},{"s":"Classical SL","t":5,"v":0.645},{"s":"Classical SL","t":5.5,"v":0.68},{"s":"Classical SL","t":6,"v":0.71},{"s":"Classical SL","t":7,"v":0.76},{"s":"Classical SL","t":8,"v":0.80},{"s":"Classical SL","t":9,"v":0.84},{"s":"Classical SL","t":10,"v":0.865},{"s":"Classical SL","t":11,"v":0.89},{"s":"Classical SL","t":12,"v":0.91},{"s":"Classical SL","t":13,"v":0.925},{"s":"Classical SL","t":14,"v":0.94},{"s":"Classical SL","t":15,"v":0.952},{"s":"Classical SL","t":16,"v":0.961},{"s":"Classical SL","t":17,"v":0.968},{"s":"Classical SL","t":18,"v":0.974},{"s":"Classical SL","t":19,"v":0.979},{"s":"Classical SL","t":20,"v":0.983},{"s":"Classical SL","t":22,"v":0.989},{"s":"Classical SL","t":24,"v":0.993},{"s":"Classical SL","t":26,"v":0.996},{"s":"Classical SL","t":28,"v":0.998},{"s":"Classical SL","t":30,"v":0.999},{"s":"Classical SL","t":33,"v":1.0},{"s":"Classical SL","t":75.2,"v":1.0}
]},
"mark":{"type":"line","strokeWidth":1.1,"clip":true},
"encoding":{
"x":{"field":"t","type":"quantitative","scale":{"domain":[0,80],"nice":false,"zero":false},"axis":null},
"y":{"field":"v","type":"quantitative","scale":{"domain":[0,1.4],"nice":false,"zero":false},"axis":null},
"color":{"field":"s","type":"nominal"},
"strokeDash":{"field":"s","type":"nominal"}
}},
{"data":{"values":[
{"s":"Steady-state MC","t":0,"v":1.14},{"s":"Steady-state MC","t":75.3,"v":1.14}
]},
"mark":{"type":"line","strokeWidth":1,"clip":true},
"encoding":{
"x":{"field":"t","type":"quantitative","scale":{"domain":[0,80],"nice":false,"zero":false},"axis":{"orient":"top","values":[0,10,20,30,40,50,60,70,80],"tickSize":-8,"labels":false,"domain":false,"grid":false,"title":null}},
"y":{"field":"v","type":"quantitative","scale":{"domain":[0,1.4],"nice":false,"zero":false},"axis":{"orient":"right","values":[0,0.2,0.4,0.6,0.8,1,1.2,1.4],"tickSize":-8,"labels":false,"domain":false,"grid":false,"title":null}},
"color":{"field":"s","type":"nominal"},
"strokeDash":{"field":"s","type":"nominal"}
}}
],
"resolve":{"axis":{"x":"independent","y":"independent"}},
"config":{
"view":{"stroke":"black","strokeWidth":1.5},
"axis":{"tickColor":"black","tickWidth":1.5,"labelFont":"Liberation Sans","labelFontSize":18,"labelColor":"black","titleColor":"black"}
}
}
